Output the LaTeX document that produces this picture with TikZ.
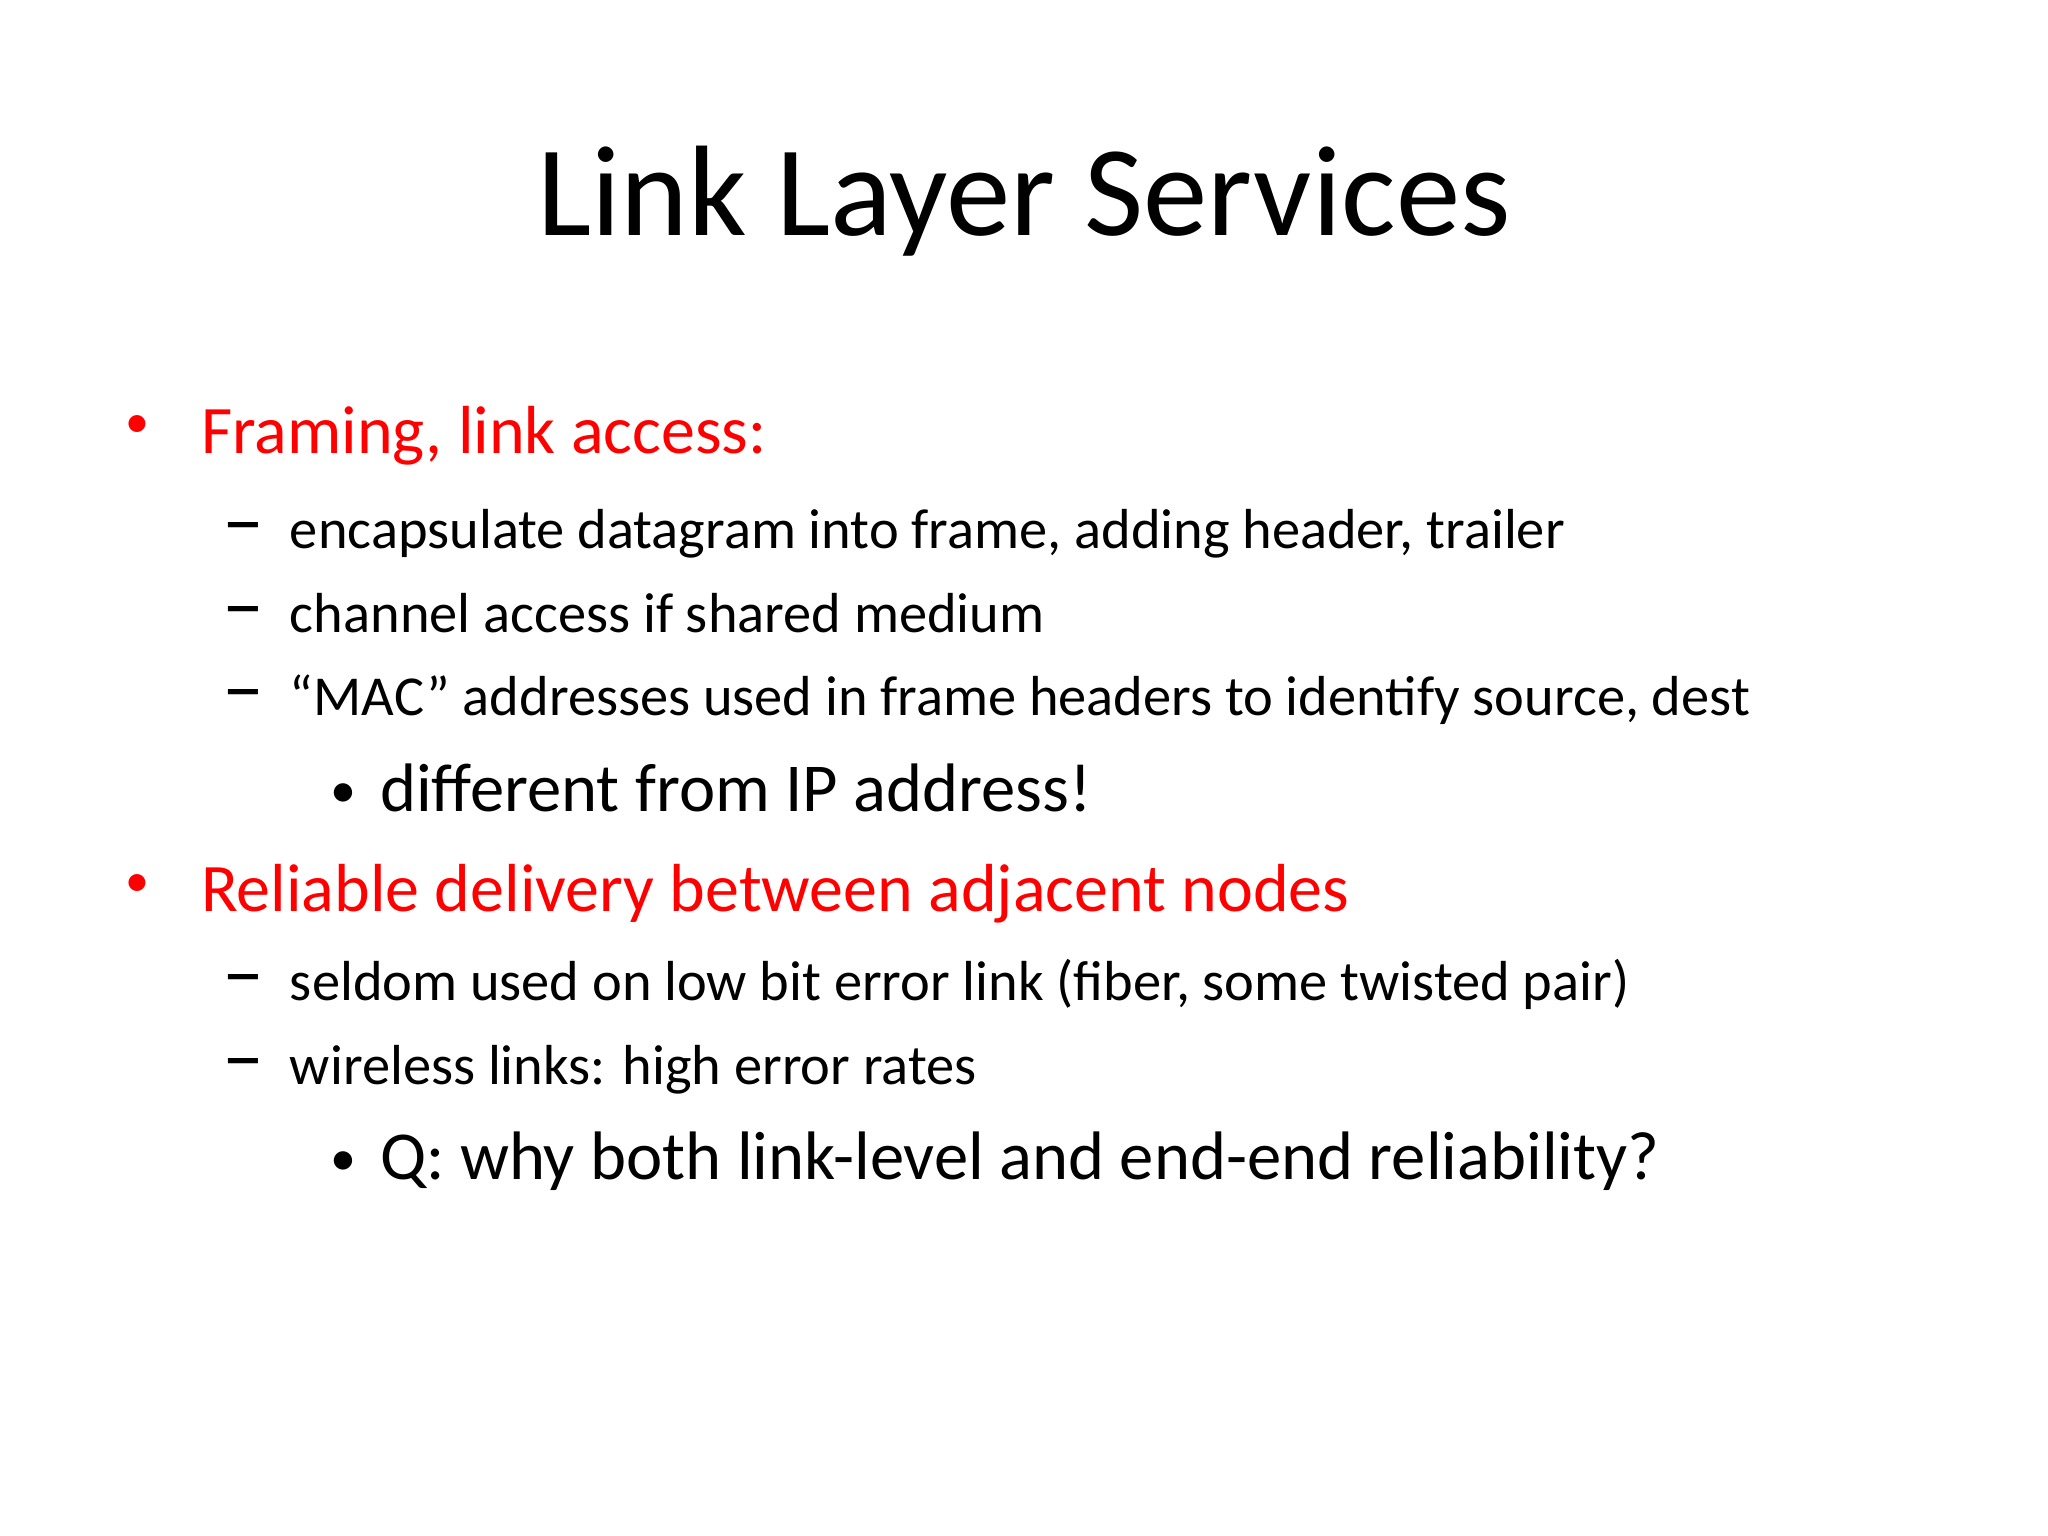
\documentclass[tikz,border=0pt]{standalone}
\usepackage{fontspec}
\setmainfont{Carlito}
\begin{document}
\begin{tikzpicture}[x=0.653pt,y=-0.653pt,
  every node/.style={inner sep=0pt,outer sep=0pt,anchor=base west},
  ttl/.style={font=\fontsize{64.4}{70}\selectfont,anchor=base},
  lvone/.style={font=\fontsize{34}{40}\selectfont,text=red},
  bone/.style={font=\fontsize{24}{28}\selectfont,text=red},
  lvtwo/.style={font=\fontsize{28.2}{32}\selectfont},
  dtwo/.style={font=\fontsize{42}{44}\selectfont},
  lvthree/.style={font=\fontsize{34.3}{38}\selectfont},
  bthree/.style={font=\fontsize{26}{30}\selectfont}]
\useasboundingbox[fill=white] (0,0) rectangle (1568,1176);
\node[ttl] (title) at (784,180) {Link Layer Services};
\node[bone] (b1d) at (96,335) {•};
\node[lvone] (b1) at (154,347) {Framing, link access:};
\node[dtwo] (s1d) at (170,420) {–};
\node[lvtwo] (s1) at (222,420) {encapsulate datagram into frame, adding header, trailer};
\node[dtwo] (s2d) at (170,484) {–};
\node[lvtwo] (s2) at (222,484) {channel access if shared medium};
\node[dtwo] (s3d) at (170,548) {–};
\node[lvtwo] (s3) at (222,548) {“MAC” addresses used in frame headers to identify source, dest};
\node[bthree] (t1d) at (253,618) {•};
\node[lvthree] (t1) at (291,621) {different from IP address!};
\node[bone] (b2d) at (96,686) {•};
\node[lvone] (b2) at (154,698) {Reliable delivery between adjacent nodes};
\node[dtwo] (s4d) at (170,766) {–};
\node[lvtwo] (s4) at (222,766) {seldom used on low bit error link (fiber, some twisted pair)};
\node[dtwo] (s5d) at (170,830) {–};
\node[lvtwo] (s5) at (222,830) {wireless links: high error rates};
\node[bthree] (t2d) at (253,900) {•};
\node[lvthree] (t2) at (291,903) {Q: why both link-level and end-end reliability?};
\end{tikzpicture}
\end{document}
